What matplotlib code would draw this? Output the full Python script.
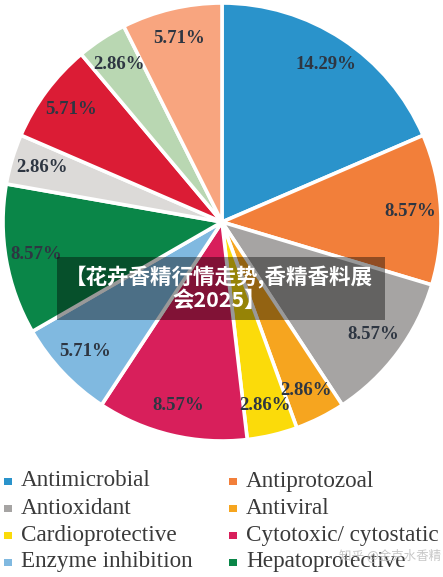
import matplotlib.pyplot as plt
from matplotlib.patches import Rectangle

# slice data, clockwise from 12 o'clock
values = [14.29, 8.57, 8.57, 2.86, 2.86, 8.57, 5.71, 8.57, 2.86, 5.71, 2.86, 5.71]
colors = ['#2a93cb', '#f27f3a', '#a6a4a3', '#f6a51f', '#fbdb0a', '#d81f5b',
          '#80b9e0', '#0a8648', '#dcdad8', '#db1c35', '#b9d7b2', '#f8a57f']
pct_labels = ['14.29%', '8.57%', '8.57%', '2.86%', '2.86%', '8.57%',
              '5.71%', '8.57%', '2.86%', '5.71%', '2.86%', '5.71%']

legend_names = ['Antimicrobial', 'Antiprotozoal', 'Antioxidant', 'Antiviral',
                'Cardioprotective', 'Cytotoxic/ cytostatic', 'Enzyme inhibition',
                'Hepatoprotective']

title_text = '【花卉香精行情走势,香精香料展\n会2025】'
watermark = '知乎 @金克水香精'

W, H = 443, 577
fig = plt.figure(figsize=(W / 100, H / 100), dpi=100)
fig.patch.set_facecolor('white')

# pie axes
cx, cy, r = 222, 222, 219
ax = fig.add_axes([(cx - r) / W, 1 - (cy + r) / H, 2 * r / W, 2 * r / H])
it = iter(pct_labels)
wedges, texts, autotexts = ax.pie(
    values, colors=colors, startangle=90, counterclock=False, radius=1,
    autopct=lambda p: next(it), pctdistance=0.86,
    wedgeprops=dict(edgecolor='white', linewidth=2.6),
    textprops=dict(family='Liberation Serif', fontweight='bold',
                   fontsize=13.5, color='#2e3642'))
ax.set_xlim(-1, 1)
ax.set_ylim(-1, 1)
ax.set_aspect('equal')
ax.axis('off')

# overlay axes in pixel coordinates
ov = fig.add_axes([0, 0, 1, 1])
ov.set_xlim(0, W)
ov.set_ylim(H, 0)
ov.axis('off')
ov.patch.set_alpha(0)

# legend, row-major, two columns
for i, name in enumerate(legend_names):
    col, row = i % 2, i // 2
    x0 = 8 if col == 0 else 233
    y0 = 481 + row * 27
    ov.add_patch(Rectangle((x0 - 3.5, y0 - 3.5), 7.5, 7.5, color=colors[i], lw=0))
    ov.text(x0 + 13, y0, name, family='Liberation Serif', fontsize=16.7,
            color='#3a3a3a', va='center', ha='left')

# title banner
ov.add_patch(Rectangle((57, 257), 328, 63, color='black', alpha=0.4, lw=0))
ov.text(219, 288, title_text, family=['Noto Sans CJK SC', 'DejaVu Sans'],
        fontweight='bold', fontsize=15.5, color='white', ha='center',
        va='center', linespacing=1.15)

# watermark
ov.text(441, 556, watermark, family=['Noto Sans CJK SC', 'DejaVu Sans'],
        fontsize=9, color='#bdbdbd', alpha=0.85, ha='right', va='center')

fig.savefig('out.png', dpi=100)
